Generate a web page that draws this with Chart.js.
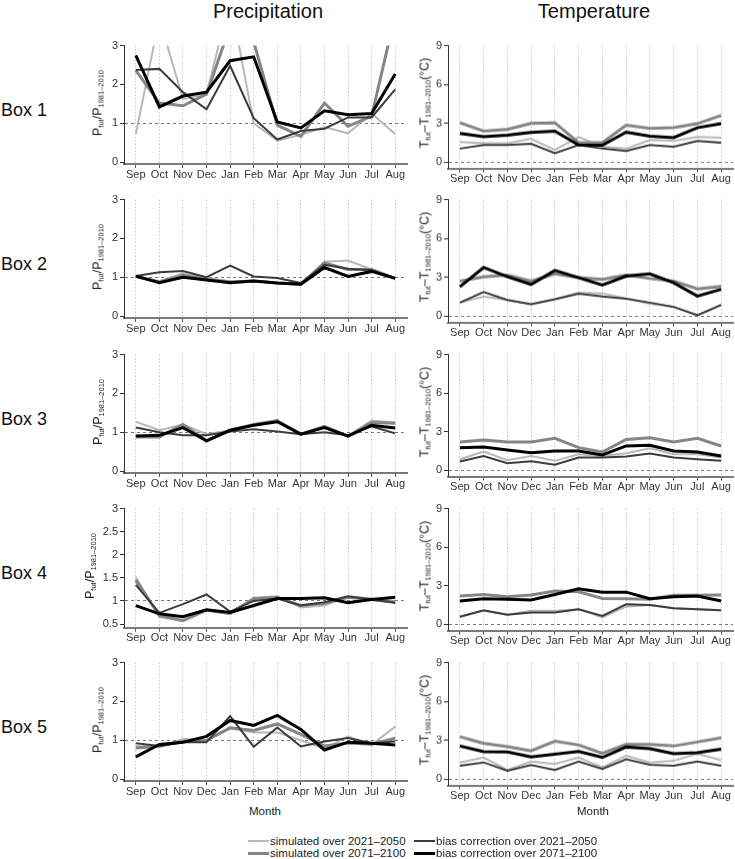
<!DOCTYPE html>
<html>
<head>
<meta charset="utf-8">
<script src="https://cdn.jsdelivr.net/npm/chart.js@4.4.0/dist/chart.umd.min.js"></script>
<style>
  body { margin: 0; width: 735px; height: 859px; position: relative; background: #fff;
         font-family: "Liberation Sans", Arial, sans-serif; color: #111; overflow: hidden; }
  .abs { position: absolute; }
  .title { font-size: 20px; transform: translate(-50%, -50%); white-space: nowrap; }
  .box { font-size: 18px; transform: translateY(-50%); white-space: nowrap; }
  .ylab { font-size: 12.5px; transform: translate(-50%, -50%) rotate(-90deg); white-space: nowrap; color: #222; }
  .ylab sub { font-size: 7.5px; vertical-align: -2px; }
  .month { font-size: 11.5px; transform: translate(-50%, -50%); color: #222; }
  .leg { font-size: 11.5px; display: flex; align-items: center; white-space: nowrap; color: #222; transform: translateY(-50%); }
  .leg i { display: inline-block; width: 21px; margin-right: 1px; }
</style>
</head>
<body>
<script>
const months = ["Sep", "Oct", "Nov", "Dec", "Jan", "Feb", "Mar", "Apr", "May", "Jun", "Jul", "Aug"];
const boxNames = ["Box 1", "Box 2", "Box 3", "Box 4", "Box 5"];

const precipTicks = [0, 1, 2, 3];
const precipTicksBox4 = [0.5, 1, 1.5, 2, 2.5, 3];
const tempTicks = [0, 3, 6, 9];

// P_fut / P_1981-2010, one row per box
const precipSimNear = [
  [0.72, 3.7, 1.62, 1.75, 4.2, 1.0, 0.55, 0.7, 0.9, 0.74, 1.25, 0.72],
  [1.02, 0.9, 1.1, 0.98, 0.9, 0.9, 0.85, 0.8, 1.4, 1.43, 1.2, 0.97],
  [1.27, 1.05, 1.2, 0.95, 1.05, 1.18, 1.3, 0.95, 1.15, 0.9, 1.3, 1.25],
  [1.52, 0.65, 0.57, 0.8, 0.72, 1.07, 1.1, 0.86, 0.9, 1.1, 1.05, 1.0],
  [0.85, 0.82, 1.03, 1.0, 1.3, 1.2, 1.2, 1.0, 0.78, 1.1, 0.88, 1.35]
];
const precipSimFar = [
  [2.36, 1.52, 1.45, 1.75, 3.5, 3.1, 0.95, 0.66, 1.52, 0.92, 1.18, 3.8],
  [1.02, 0.88, 1.05, 0.95, 0.88, 0.9, 0.85, 0.82, 1.37, 1.2, 1.2, 0.97],
  [0.88, 0.88, 1.2, 0.78, 1.05, 1.2, 1.3, 0.95, 1.15, 0.9, 1.25, 1.23],
  [1.45, 0.68, 0.57, 0.8, 0.73, 1.05, 1.08, 0.9, 0.95, 1.08, 1.03, 0.97],
  [0.8, 0.85, 0.97, 1.0, 1.32, 1.25, 1.42, 1.15, 0.85, 0.93, 0.9, 1.05]
];
const precipBiasNear = [
  [2.37, 2.4, 1.8, 1.36, 2.48, 1.13, 0.58, 0.8, 0.86, 1.15, 1.15, 1.87],
  [1.03, 1.13, 1.16, 1.0, 1.3, 1.02, 0.98, 0.85, 1.32, 1.22, 1.18, 0.98],
  [1.12, 1.0, 0.92, 0.92, 1.02, 1.08, 1.02, 0.95, 1.0, 0.92, 1.15, 0.97],
  [1.35, 0.74, 0.93, 1.14, 0.77, 1.0, 1.05, 0.9, 0.97, 1.1, 1.03, 0.96],
  [0.92, 0.85, 0.95, 0.95, 1.62, 0.83, 1.33, 0.84, 0.97, 1.06, 0.92, 0.97]
];
const precipBiasFar = [
  [2.75, 1.42, 1.7, 1.8, 2.61, 2.71, 1.03, 0.88, 1.32, 1.22, 1.25, 2.27],
  [1.03, 0.86, 1.0, 0.93, 0.86, 0.9, 0.85, 0.82, 1.25, 1.02, 1.15, 0.97],
  [0.9, 0.92, 1.12, 0.78, 1.05, 1.18, 1.27, 0.95, 1.12, 0.9, 1.18, 1.11],
  [0.9, 0.72, 0.66, 0.81, 0.75, 0.9, 1.05, 1.05, 1.07, 0.96, 1.03, 1.08],
  [0.57, 0.89, 0.95, 1.1, 1.51, 1.38, 1.64, 1.28, 0.75, 0.95, 0.92, 0.88]
];

// T_fut - T_1981-2010 (°C), one row per box
const tempSimNear = [
  [1.54, 1.44, 1.44, 1.8, 0.93, 1.93, 1.18, 1.03, 1.7, 1.62, 1.93, 1.88],
  [1.03, 1.5, 1.23, 0.9, 1.29, 1.8, 1.75, 1.36, 0.95, 0.7, 0.05, 0.82],
  [0.85, 1.44, 0.77, 1.1, 0.72, 1.23, 1.1, 1.31, 1.7, 1.23, 1.23, 0.98],
  [0.57, 1.03, 0.72, 1.03, 1.03, 1.16, 0.51, 1.36, 1.49, 1.23, 1.16, 1.08],
  [1.28, 1.66, 0.69, 1.35, 1.15, 1.66, 0.89, 1.79, 1.28, 1.4, 1.96, 1.45]
];
const tempSimFar = [
  [3.03, 2.39, 2.52, 2.98, 3.03, 1.49, 1.49, 2.85, 2.6, 2.65, 2.96, 3.6],
  [2.7, 3.03, 3.16, 2.7, 3.26, 2.96, 2.83, 3.16, 2.9, 2.7, 2.1, 2.29],
  [2.19, 2.34, 2.19, 2.19, 2.47, 1.75, 1.41, 2.39, 2.52, 2.19, 2.47, 1.88],
  [2.19, 2.31, 2.13, 2.26, 2.57, 2.52, 2.0, 1.98, 1.93, 2.24, 2.24, 2.26],
  [3.27, 2.76, 2.5, 2.17, 2.93, 2.63, 1.99, 2.68, 2.68, 2.55, 2.86, 3.19]
];
const tempBiasNear = [
  [1.03, 1.31, 1.31, 1.41, 0.67, 1.31, 1.03, 0.85, 1.31, 1.18, 1.62, 1.49],
  [1.03, 1.85, 1.23, 0.9, 1.29, 1.72, 1.5, 1.34, 1.03, 0.7, 0.05, 0.85],
  [0.67, 1.1, 0.54, 0.69, 0.41, 0.98, 0.98, 1.05, 1.29, 0.98, 0.85, 0.72],
  [0.57, 1.08, 0.72, 0.9, 0.9, 1.16, 0.64, 1.54, 1.49, 1.23, 1.16, 1.08],
  [1.02, 1.28, 0.64, 1.07, 0.69, 1.35, 0.77, 1.53, 1.1, 1.02, 1.35, 1.02]
];
const tempBiasFar = [
  [2.21, 1.95, 2.08, 2.29, 2.39, 1.31, 1.29, 2.31, 2.0, 1.88, 2.65, 2.96],
  [2.26, 3.75, 3.03, 2.44, 3.52, 2.96, 2.39, 3.08, 3.26, 2.57, 1.54, 2.06],
  [1.75, 1.8, 1.57, 1.36, 1.49, 1.49, 1.18, 1.88, 1.93, 1.49, 1.41, 1.1],
  [1.8, 1.98, 1.93, 1.88, 2.31, 2.75, 2.49, 2.49, 1.98, 2.13, 2.19, 1.8],
  [2.55, 2.12, 2.09, 1.71, 1.91, 2.12, 1.66, 2.47, 2.35, 1.96, 2.04, 2.3]
];

const seriesLabels = [
  "simulated over 2021–2050", "simulated over 2071–2100",
  "bias correction over 2021–2050", "bias correction over 2071–2100"
];
const seriesColors = ["#b8b8b8", "#858585", "#3c3c3c", "#000000"];
const seriesWidths = [2, 3, 2, 3];

const tickFont = { family: "'Liberation Sans', Arial, sans-serif", size: 11 };

function addDiv(cls, html, x, y) {
  const d = document.createElement("div");
  d.className = "abs " + cls;
  d.innerHTML = html;
  d.style.left = x + "px";
  d.style.top = y + "px";
  document.body.appendChild(d);
  return d;
}

function rowTop(row) { return 44 + row * 154.25; }

function makeChart(isP, row) {
  const top = rowTop(row);
  let yMin, yMax, ticks, refVal, unit;
  if (isP) {
    ticks = row === 3 ? precipTicksBox4 : precipTicks;
    yMax = 3;
    yMin = row === 3 ? 0.42 : -0.05;
    unit = row === 3 ? 117 / 2.5 : 118 / 3;
    refVal = 1;
  } else {
    ticks = tempTicks;
    yMax = 9; yMin = -0.5;
    unit = 117 / 9;
    refVal = 0;
  }
  const padTop = 7, axisH = 22;
  const plotH = (yMax - yMin) * unit;
  const left = isP ? 100 : 430;
  const yW = isP ? 24 : 18;

  const wrap = document.createElement("div");
  wrap.className = "abs";
  wrap.style.left = left + "px";
  wrap.style.top = (top - padTop) + "px";
  wrap.style.width = (isP ? 315 : 305) + "px";
  wrap.style.height = (padTop + plotH + axisH) + "px";
  const cv = document.createElement("canvas");
  wrap.appendChild(cv);
  document.body.appendChild(wrap);

  const sets = isP
    ? [precipSimNear[row], precipSimFar[row], precipBiasNear[row], precipBiasFar[row]]
    : [tempSimNear[row], tempSimFar[row], tempBiasNear[row], tempBiasFar[row]];

  new Chart(cv, {
    type: "line",
    data: {
      labels: months,
      datasets: sets.map((d, i) => ({
        label: seriesLabels[i],
        data: d,
        borderColor: seriesColors[i],
        borderWidth: seriesWidths[i],
        pointRadius: 0,
        tension: 0,
        fill: false,
        order: 3 - i
      }))
    },
    options: {
      responsive: true,
      maintainAspectRatio: false,
      animation: false,
      layout: { padding: { top: padTop, right: isP ? 8 : 2, left: 0, bottom: 0 } },
      plugins: { legend: { display: false }, tooltip: { enabled: false } },
      scales: {
        x: {
          offset: true,
          grid: { color: "#c8c8c8", lineWidth: 1, tickLength: 4, tickColor: "#555" },
          border: { color: "#7a7a7a", width: 2, dash: [1.5, 2] },
          ticks: { color: "#333", font: tickFont, padding: 0, autoSkip: false, maxRotation: 0 },
          afterFit: s => { s.height = axisH; }
        },
        y: {
          min: yMin,
          max: yMax,
          afterBuildTicks: s => { s.ticks = ticks.map(v => ({ value: v })); },
          grid: {
            color: c => (c.tick && c.tick.value === refVal ? "#777" : "rgba(0,0,0,0)"),
            lineWidth: 1, tickLength: 4, tickColor: "#333"
          },
          border: { color: "#333", width: 1, dash: [3, 3] },
          ticks: { color: "#333", font: tickFont, padding: 2, callback: v => String(v) },
          afterFit: s => { s.width = yW; }
        }
      }
    }
  });

  // rotated y-axis title with subscripts
  const lab = isP
    ? "P<sub>fut</sub>/P<sub>1981–2010</sub>"
    : "T<sub>fut</sub>–T<sub>1981–2010</sub>(°C)";
  const labX = isP ? (row === 3 ? 90 : 98) : 425;
  addDiv("ylab", lab, labX, top + 59);
}

addDiv("title", "Precipitation", 268, 11);
addDiv("title", "Temperature", 594, 11);

for (let r = 0; r < boxNames.length; r++) {
  addDiv("box", boxNames[r], 1, rowTop(r) + 66);
  makeChart(true, r);
  makeChart(false, r);
}

addDiv("month", "Month", 265, 811);
addDiv("month", "Month", 593, 811);

// legend, two columns
const legPos = [[248, 841], [248, 853], [414, 841], [414, 853]];
seriesLabels.forEach((t, i) => {
  const line = `<i style="border-top:${seriesWidths[i]}px solid ${seriesColors[i]}"></i>`;
  addDiv("leg", line + t, legPos[i][0], legPos[i][1]);
});
</script>
</body>
</html>
